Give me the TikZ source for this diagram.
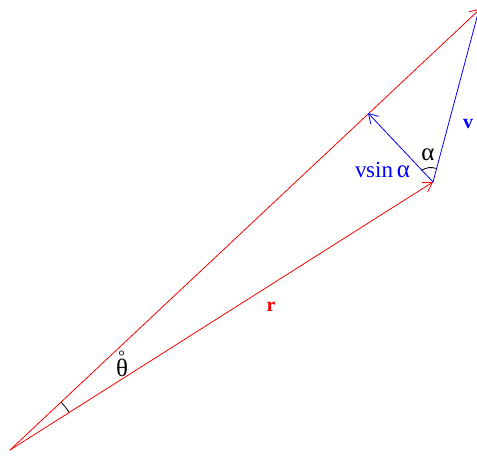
\documentclass[tikz,border=0pt]{standalone}
\usepackage{fontspec}
\setmainfont{Liberation Serif}
\usetikzlibrary{arrows.meta,calc}
\newcommand{\gk}[1]{{\fontsize{25}{28}\selectfont #1}}
\begin{document}
\begin{tikzpicture}[x=1pt,y=-1pt,
  vec/.style={line width=0.8pt,-{Straight Barb[length=9pt,width=11pt,line width=0.8pt]}},
  lbl/.style={font=\fontsize{20}{24}\selectfont,inner sep=0pt},
  arcline/.style={line width=0.8pt,black}]
\useasboundingbox (0,0) rectangle (477,460);
\coordinate (O) at (10,450);
\coordinate (R) at (433,182);
\coordinate (T) at (480,9);
\coordinate (F) at (368,113);
\coordinate (V) at (480,6);
\draw[vec,red] (O) -- (T);
\draw[vec,red] (O) -- (R);
\draw[line width=0.8pt,blue] (R) -- (V);
\draw[vec,blue] (R) -- (F);
% theta arc
\draw[arcline] ($(O)!70pt!(T)$) arc[start angle=43.2, end angle=32.3, radius=70pt];
% alpha arc
\draw[arcline] (421.5,170.5) to[bend left=25] (436.5,168.5);
\node[lbl,red,font=\fontsize{20}{24}\selectfont\bfseries] (rl) at (271,307) {r};
\node[lbl,blue,font=\fontsize{20}{24}\selectfont\bfseries] (vl) at (468,124) {v};
\node[lbl,blue,anchor=base west,font=\fontsize{23}{26}\selectfont] (vs) at (355,177) {v\kern-0.5pt sin\,\gk{α}};
\node[lbl] (al) at (428,155) {\gk{α}};
\node[lbl] (th) at (122,368) {\gk{θ}};
\draw[line width=0.6pt] (121.5,353) circle[radius=2.2pt];
\end{tikzpicture}
\end{document}
